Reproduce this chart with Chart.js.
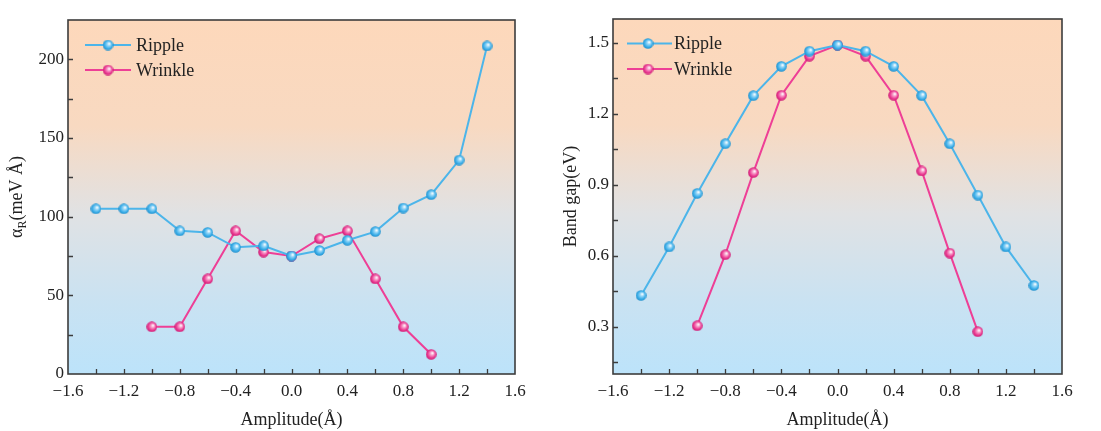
<!DOCTYPE html>
<html><head><meta charset="utf-8">
<script src="https://cdn.jsdelivr.net/npm/chart.js@4/dist/chart.umd.min.js"></script>
<style>
body{margin:0;background:#fff;width:1101px;height:431px;overflow:hidden;position:relative}
canvas{position:absolute;top:0}
</style></head><body>
<canvas id="c1" width="550" height="431" style="left:0"></canvas>
<canvas id="c2" width="551" height="431" style="left:550px"></canvas>
<script>
// ---- data ----
const amplitudeRipple = [-1.4,-1.2,-1.0,-0.8,-0.6,-0.4,-0.2,0.0,0.2,0.4,0.6,0.8,1.0,1.2,1.4];
const amplitudeWrinkle = [-1.0,-0.8,-0.6,-0.4,-0.2,0.0,0.2,0.4,0.6,0.8,1.0];
const rashbaRipple = [105,105,105,91,90,80.5,81.5,75,78.5,85,90.5,105.5,114,136,208.5];
const rashbaWrinkle = [30,30,60.5,91,77.5,75,86,91,60.5,30,12.5];
const gapRipple = [0.432,0.637,0.863,1.073,1.276,1.400,1.464,1.490,1.464,1.400,1.276,1.073,0.856,0.637,0.474];
const gapWrinkle = [0.304,0.604,0.951,1.278,1.443,1.490,1.443,1.278,0.958,0.611,0.279];
const xTicks = [-1.6,-1.2,-0.8,-0.4,0.0,0.4,0.8,1.2,1.6];
const xMinorTicks = [-1.4,-1.0,-0.6,-0.2,0.2,0.6,1.0,1.4];
const rashbaTicks = [0,50,100,150,200];
const rashbaMinorTicks = [25,75,125,175];
const gapTicks = [0.3,0.6,0.9,1.2,1.5];
const gapMinorTicks = [0.15,0.45,0.75,1.05,1.35];
const seriesNames = ['Ripple','Wrinkle'];

// ---- styles ----
const FONT = '"Liberation Serif","Times New Roman",serif';
const TXT = '#222';
const rippleColor = '#4cb5ea', wrinkleColor = '#ee3f96';

function sphere(base, light, dark){
  const s = 11, c = document.createElement('canvas');
  c.width = c.height = s;
  const g = c.getContext('2d');
  const gr = g.createRadialGradient(s/2+1.4, s/2-1.4, 0.3, s/2, s/2, s/2);
  gr.addColorStop(0, '#ffffff');
  gr.addColorStop(0.28, light);
  gr.addColorStop(0.7, base);
  gr.addColorStop(1, dark);
  g.fillStyle = gr;
  g.beginPath(); g.arc(s/2, s/2, s/2-0.2, 0, Math.PI*2); g.fill();
  return c;
}
const rippleBall = sphere('#3aaee9', '#9ad8f8', '#1f8cc8');
const wrinkleBall = sphere('#ea3790', '#f8a2cc', '#c81c72');

function pts(xs, ys){ return xs.map((x,i)=>({x:x, y:ys[i]})); }
function fmt1(v){ return Number(v).toFixed(1).replace('-', '\u2212'); }

const bgPlugin = {
  id:'bg',
  beforeDraw(chart){
    const a = chart.chartArea, ctx = chart.ctx;
    const g = ctx.createLinearGradient(0, a.top, 0, a.bottom);
    g.addColorStop(0, '#fdd8bb');
    g.addColorStop(0.3, '#f8d9c1');
    g.addColorStop(0.55, '#e0e2e4');
    g.addColorStop(0.8, '#c9e2f2');
    g.addColorStop(1, '#bce3fa');
    ctx.save(); ctx.fillStyle = g;
    ctx.fillRect(a.left, a.top, a.right-a.left, a.bottom-a.top);
    ctx.restore();
  }
};

const framePlugin = {
  id:'frame',
  afterDraw(chart, args, o){
    const a = chart.chartArea, ctx = chart.ctx;
    const xs = chart.scales.x, ys = chart.scales.y;
    ctx.save();
    ctx.strokeStyle = '#3c3c3c'; ctx.lineWidth = 1.3;
    ctx.beginPath();
    const L = 5;
    xTicks.concat(xMinorTicks).forEach(v=>{
      const px = Math.round(xs.getPixelForValue(v))+0.5;
      if (px <= a.left+1 || px >= a.right-1) return;
      ctx.moveTo(px, a.bottom); ctx.lineTo(px, a.bottom-L);
    });
    o.yMajor.concat(o.yMinor).forEach(v=>{
      const py = Math.round(ys.getPixelForValue(v))+0.5;
      if (py >= a.bottom-1 || py <= a.top+1) return;
      ctx.moveTo(a.left, py); ctx.lineTo(a.left+L, py);
    });
    ctx.stroke();
    ctx.lineWidth = 1.6;
    ctx.strokeRect(a.left, a.top, a.right-a.left, a.bottom-a.top);
    ctx.restore();
  }
};

const legendPlugin = {
  id:'lgd',
  afterDraw(chart, args, o){
    const ctx = chart.ctx;
    ctx.save();
    ctx.font = '18px ' + FONT;
    ctx.textBaseline = 'middle';
    chart.data.datasets.forEach((ds, i)=>{
      const y = o.rows[i];
      ctx.strokeStyle = ds.borderColor; ctx.lineWidth = 2;
      ctx.beginPath(); ctx.moveTo(o.x0, y); ctx.lineTo(o.x1, y); ctx.stroke();
      const img = ds.pointStyle;
      ctx.drawImage(img, o.mx - img.width/2, y - img.height/2);
      ctx.fillStyle = TXT;
      ctx.fillText(ds.label, o.tx, y+1);
    });
    ctx.restore();
  }
};

const yTitlePlugin = {
  id:'ytitle',
  afterDraw(chart, args, o){
    if (!o.on) return;
    const ctx = chart.ctx, a = chart.chartArea;
    const cy = (a.top + a.bottom)/2;
    ctx.save();
    ctx.translate(o.x, cy);
    ctx.rotate(-Math.PI/2);
    ctx.fillStyle = TXT;
    ctx.textBaseline = 'middle';
    const big = '18px ' + FONT, small = '12px ' + FONT;
    ctx.font = big; const w1 = ctx.measureText('\u03b1').width, w3 = ctx.measureText('(meV \u00c5)').width;
    ctx.font = small; const w2 = ctx.measureText('R').width;
    let x = -(w1+w2+w3)/2;
    ctx.font = big; ctx.fillText('\u03b1', x, 0); x += w1;
    ctx.font = small; ctx.fillText('R', x, 6); x += w2;
    ctx.font = big; ctx.fillText('(meV \u00c5)', x, 0);
    ctx.restore();
  }
};

function makeChart(id, yr, yw, cfg){
  return new Chart(document.getElementById(id), {
    type:'line',
    data:{datasets:[
      {label:seriesNames[0], data:pts(amplitudeRipple, yr), borderColor:rippleColor, backgroundColor:rippleColor,
       pointStyle:rippleBall, pointRadius:5, borderWidth:2, tension:0},
      {label:seriesNames[1], data:pts(amplitudeWrinkle, yw), borderColor:wrinkleColor, backgroundColor:wrinkleColor,
       pointStyle:wrinkleBall, pointRadius:5, borderWidth:2, tension:0}
    ]},
    options:{
      responsive:false, animation:false, devicePixelRatio:1,
      layout:{padding:cfg.pad},
      plugins:{legend:{display:false}, tooltip:{enabled:false},
        frame:{yMajor:cfg.yMajor, yMinor:cfg.yMinor},
        lgd:cfg.legend,
        ytitle:{on:cfg.customTitle, x:17}},
      scales:{
        x:{type:'linear', min:-1.6, max:1.6,
           afterBuildTicks:s=>{s.ticks = xTicks.map(v=>({value:v}));},
           afterFit:s=>{s.height = 57;},
           grid:{display:false, drawTicks:false}, border:{display:false},
           ticks:{font:{family:FONT,size:17}, color:TXT, padding:7, maxRotation:0, autoSkip:false, callback:v=>fmt1(v)},
           title:{display:true, text:'Amplitude(\u00c5)', color:TXT, font:{family:FONT,size:18}, padding:{top:0,bottom:0}}},
        y:{type:'linear', min:cfg.ymin, max:cfg.ymax,
           afterBuildTicks:s=>{s.ticks = cfg.yMajor.map(v=>({value:v}));},
           afterFit:s=>{s.width = cfg.yw;},
           grid:{display:false, drawTicks:false}, border:{display:false},
           ticks:{font:{family:FONT,size:17}, color:TXT, padding:4, autoSkip:false, callback:cfg.yfmt},
           title:{display:!cfg.customTitle, text:cfg.ytitle||'', color:TXT, font:{family:FONT,size:18}, padding:{top:cfg.tpad||0,bottom:0}}}
      }
    },
    plugins:[bgPlugin, framePlugin, legendPlugin, yTitlePlugin]
  });
}

makeChart('c1', rashbaRipple, rashbaWrinkle, {
  pad:{top:20, right:35, left:0, bottom:0}, ymin:0, ymax:225, yw:68,
  yMajor:rashbaTicks, yMinor:rashbaMinorTicks, yfmt:v=>String(v), customTitle:true,
  legend:{x0:85, x1:131, mx:108, tx:136, rows:[45,70]}
});
makeChart('c2', gapRipple, gapWrinkle, {
  pad:{top:19, right:39, left:0, bottom:0}, ymin:0.1, ymax:1.6, yw:63,
  yMajor:gapTicks, yMinor:gapMinorTicks, yfmt:v=>Number(v).toFixed(1), customTitle:false,
  ytitle:'Band gap(eV)', tpad:10,
  legend:{x0:77, x1:122, mx:98, tx:124, rows:[43.5,69]}
});
</script>
</body></html>
